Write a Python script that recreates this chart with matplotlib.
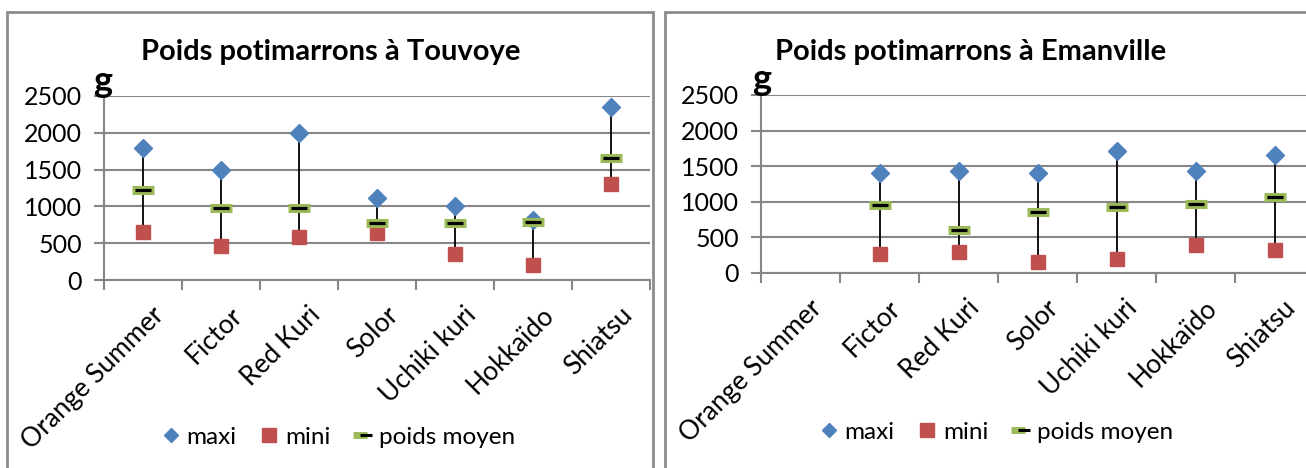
import numpy as np
import matplotlib
matplotlib.use("Agg")
import matplotlib.pyplot as plt
from matplotlib.lines import Line2D
from matplotlib.patches import Rectangle
from matplotlib.legend_handler import HandlerTuple

plt.rcParams['font.family'] = ['Lato', 'DejaVu Sans']

varietes = ["Orange Summer", "Fictor", "Red Kuri", "Solor", "Uchiki kuri", "Hokkaïdo", "Shiatsu"]

# Touvoye
touvoye_maxi = [1800, 1500, 2000, 1110, 1000, 820, 2350]
touvoye_mini = [650, 460, 590, 640, 350, 200, 1300]
touvoye_moyen = [1220, 980, 980, 770, 770, 790, 1660]

# Emanville (pas de donnees pour Orange Summer)
emanville_maxi = [np.nan, 1400, 1430, 1400, 1710, 1430, 1660]
emanville_mini = [np.nan, 260, 300, 150, 190, 390, 330]
emanville_moyen = [np.nan, 950, 600, 860, 930, 970, 1070]

BLUE = "#4F81BD"
RED = "#C0504D"
GREEN = "#9BBB59"
GRID = "#878787"

W, H = 1306, 468
fig = plt.figure(figsize=(W / 100, H / 100), dpi=100)


def px(x0, y_top, x1, y_bot):
    # pixel box -> figure fraction [left, bottom, width, height]
    return [x0 / W, 1 - y_bot / H, (x1 - x0) / W, (y_bot - y_top) / H]


def draw_panel(rect, maxi, mini, moyen, title, title_x, legend_x, legend_y, g_xy, box):
    fig.add_artist(Rectangle((box[0] / W, -0.1), (box[1] - box[0]) / W, 1 - box[2] / H + 0.1,
                             transform=fig.transFigure, fill=False, ec="#8c8c8c", lw=2))
    ax = fig.add_axes(rect)
    x = np.arange(len(varietes))
    maxi = np.array(maxi, dtype=float)
    mini = np.array(mini, dtype=float)
    moyen = np.array(moyen, dtype=float)
    ok = ~np.isnan(maxi)
    ax.vlines(x[ok], mini[ok], maxi[ok], color="black", lw=1.3, zorder=3)
    ax.plot(x, maxi, ls="none", marker="D", ms=9.5, color=BLUE, mec=BLUE, zorder=4)
    ax.plot(x, mini, ls="none", marker="s", ms=10.5, color=RED, mec=RED, zorder=4)
    ax.plot(x, moyen, ls="none", marker="_", ms=16, mew=6.5, color=GREEN, zorder=5)
    ax.plot(x, moyen, ls="none", marker="_", ms=12, mew=2.3, color="black", zorder=6)

    ax.set_xlim(-0.5, len(varietes) - 0.5)
    ax.set_ylim(0, 2500)
    ax.set_yticks(range(0, 2501, 500))
    ax.yaxis.grid(True, color=GRID, lw=1.5)
    ax.set_axisbelow(True)
    for s in ["top", "right"]:
        ax.spines[s].set_visible(False)
    ax.spines["left"].set_color(GRID)
    ax.spines["bottom"].set_color(GRID)
    ax.spines["left"].set_linewidth(1.5)
    ax.spines["bottom"].set_linewidth(1.5)
    ax.tick_params(axis="y", length=7, width=1.5, color=GRID, pad=9, labelsize=18)

    ax.set_xticks(np.arange(len(varietes) + 1) - 0.5)
    ax.set_xticklabels([])
    ax.tick_params(axis="x", length=7, width=1.5, color=GRID)
    for i, name in enumerate(varietes):
        ax.annotate(name, xy=(i, 0), xycoords="data", xytext=(6, -16), textcoords="offset points",
                    rotation=45, ha="right", va="top", rotation_mode="anchor", fontsize=19)

    fig.text(title_x / W, 1 - 52 / H, title, ha="center", va="center", fontsize=21, fontweight="bold")
    fig.text(g_xy[0] / W, 1 - g_xy[1] / H, "g", ha="center", va="center", fontsize=26, fontweight="bold")

    h_maxi = Line2D([], [], ls="none", marker="D", ms=7, color=BLUE)
    h_mini = Line2D([], [], ls="none", marker="s", ms=10, color=RED)
    h_moy = (Line2D([], [], ls="none", marker="_", ms=10, mew=5, color=GREEN),
             Line2D([], [], ls="none", marker="_", ms=8, mew=2.2, color="black"))
    fig.legend([h_maxi, h_mini, h_moy], ["maxi", "mini", "poids moyen"],
               handler_map={tuple: HandlerTuple(ndivide=None, pad=0)},
               loc="center", bbox_to_anchor=(legend_x / W, 1 - legend_y / H), ncol=3, frameon=False,
               fontsize=17.5, handlelength=0.5, handletextpad=0.4, columnspacing=1.1)
    return ax


draw_panel(px(104, 96, 650, 280), touvoye_maxi, touvoye_mini, touvoye_moyen,
           "Poids potimarrons à Touvoye", 331, 340, 437, (103, 82), (7, 653, 12))
draw_panel(px(761, 95, 1314, 273), emanville_maxi, emanville_mini, emanville_moyen,
           "Poids potimarrons à Emanville", 971, 998, 432, (762, 80), (665, 1320, 12))

fig.savefig("out.png", dpi=100)
